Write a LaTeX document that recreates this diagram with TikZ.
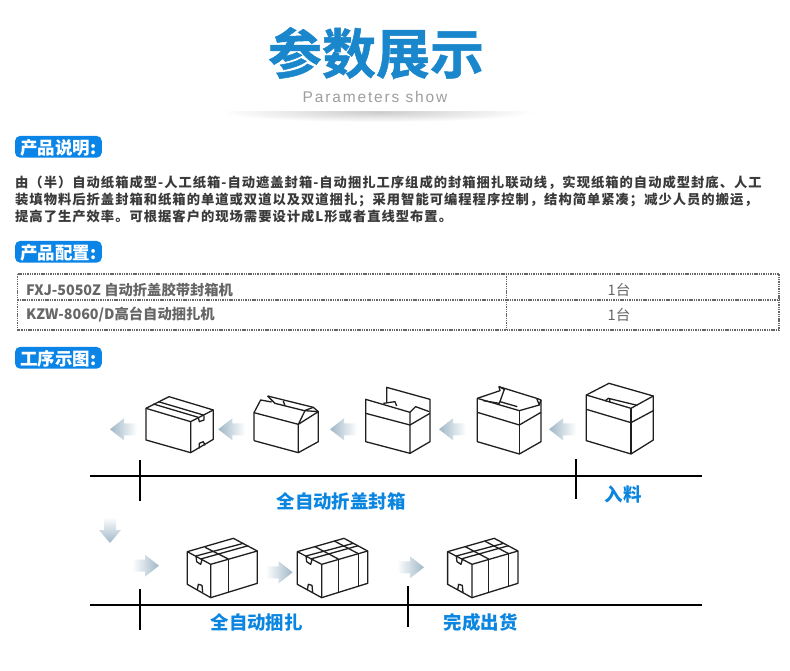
\documentclass[tikz,border=0pt]{standalone}
\usepackage{fontspec}
\newfontfamily\cjk{Noto Sans CJK SC}
\newfontfamily\cjkheavy[FakeBold=0.9]{Noto Sans CJK SC Bold}
\newfontfamily\lat[LetterSpace=12]{Liberation Sans}
\definecolor{pillblue}{HTML}{0A84E6}
\definecolor{titleblue}{HTML}{1A86CC}
\definecolor{labelblue}{HTML}{0A85E0}
\definecolor{bodytext}{HTML}{3A3A3A}
\definecolor{cfgtext}{HTML}{666666}
\definecolor{arrowdark}{HTML}{9FB7C6}
\tikzset{
  pill/.style={fill=pillblue,rounded corners=5pt,minimum width=86.7pt,minimum height=21.7pt,inner sep=0pt,
    text=white,font=\cjk\bfseries\fontsize{17.5}{18}\selectfont,text depth=0pt},
  bodyline/.style={anchor=west,inner sep=0pt,text=bodytext,font=\cjk\bfseries\fontsize{13.3}{14}\selectfont\addfontfeature{LetterSpace=7.5}},
  cfgline/.style={anchor=west,inner sep=0pt,text=cfgtext,font=\cjk\bfseries\fontsize{14.3}{15}\selectfont},
  cfgqty/.style={inner sep=0pt,text=cfgtext,font=\cjk\fontsize{14.5}{15}\selectfont},
  steplabel/.style={inner sep=0pt,text=labelblue,font=\cjk\bfseries\fontsize{18.4}{19}\selectfont},
  cfgrule/.style={draw=cfgtext,line width=1.4pt,dash pattern=on 1.4pt off 0.9pt},
  boxline/.style={draw=black!88,line width=1.3pt,line join=round,fill=none},
  flowrule/.style={draw=black,line width=1.9pt},
}
\newcommand{\larrow}[2]{\shade[left color=arrowdark,right color=white] (#1,#2) -- ++(14,-11) -- ++(0,5) -- ++(13,0) -- ++(0,12) -- ++(-13,0) -- ++(0,5) -- cycle;}
\newcommand{\rarrow}[2]{\shade[right color=arrowdark,left color=white] (#1,#2) -- ++(-14,-11) -- ++(0,5) -- ++(-13,0) -- ++(0,12) -- ++(13,0) -- ++(0,5) -- cycle;}
\newcommand{\strapbox}{%
\draw[boxline] (22,50) -- (162,10) -- (233,48) -- (233,145) -- (95,188) -- (22,148) -- cycle;
\draw[boxline] (22,50) -- (95,88) -- (233,48) (95,88) -- (95,188);
\draw[boxline] (145,72) -- (145,170) (205,56) -- (205,155);
\draw[boxline] (75,35) -- (145,72) (133,18) -- (205,56);
\draw[boxline] (48,63) -- (190,25) (62,72) -- (205,32);
\draw[boxline] (48,63) -- (50,80) -- (62,88) -- (66,74);
\draw[boxline] (52,165) -- (55,148) -- (66,151) -- (68,172);
}
\begin{document}
\begin{tikzpicture}[x=1pt,y=-1pt]
\useasboundingbox (0,0) rectangle (790,671);
\fill[white] (0,0) rectangle (790,671);
% header
\begin{scope}
\clip (200,112) rectangle (560,125);
\shade[inner color=black!20,outer color=white,draw=none] (378,112) ellipse (157 and 10);
\end{scope}
\node[inner sep=0pt,text=titleblue,font=\cjkheavy\fontsize{54}{56}\selectfont] (title) at (376,53) {参数展示};
\node[inner sep=0pt,text=black!38,font=\lat\fontsize{15.5}{16}\selectfont] (subtitle) at (375,97) {Parameters show};
% section pills
\node[pill] (p1) at (58.4,146.8) {产品说明:};
\node[pill] (p2) at (58.4,251.8) {产品配置:};
\node[pill] (p3) at (58.4,357.8) {工序示图:};
% body
\node[bodyline] (l1) at (15,183) {由（半）自动纸箱成型-人工纸箱-自动遮盖封箱-自动捆扎工序组成的封箱捆扎联动线，实现纸箱的自动成型封底、人工};
\node[bodyline] (l2) at (15,200) {装填物料后折盖封箱和纸箱的单道或双道以及双道捆扎；采用智能可编程程序控制，结构简单紧凑；减少人员的搬运，};
\node[bodyline] (l3) at (15,216.5) {提高了生产效率。可根据客户的现场需要设计成L形或者直线型布置。};
% table
\draw[cfgrule] (17.5,274) rectangle (779,330);
\draw[cfgrule] (17.5,300) -- (779,300);
\draw[cfgrule] (506.7,274) -- (506.7,330);
\node[cfgline] (c1) at (26,290) {FXJ-5050Z 自动折盖胶带封箱机};
\node[cfgline] (c2) at (26,315) {KZW-8060/D高台自动捆扎机};
\node[cfgqty] (q1) at (619,290) {1台};
\node[cfgqty] (q2) at (619,315) {1台};
% arrows
\larrow{110}{429.3}
\larrow{218.3}{429.3}
\larrow{330}{429.3}
\larrow{439}{429.3}
\larrow{549}{429.3}
\shade[bottom color=arrowdark,top color=white] (110,543) -- ++(-11,-13) -- ++(5,0) -- ++(0,-13) -- ++(12,0) -- ++(0,13) -- ++(5,0) -- cycle;
\rarrow{159}{565.7}
\rarrow{292.7}{572.3}
\rarrow{424}{567.3}
% box 1
\begin{scope}[shift={(140,390)},x=0.3333pt,y=-0.3333pt]
\draw[boxline] (18,55) -- (87,20) -- (220,60) -- (220,148) -- (152,188) -- (18,150) -- cycle;
\draw[boxline] (18,55) -- (152,95) -- (220,60) (152,95) -- (152,188);
\draw[boxline] (40,42) -- (175,82) (55,35) -- (190,75);
\draw[boxline] (175,82) -- (178,95) -- (192,90) -- (192,76);
\draw[boxline] (178,175) -- (178,160) -- (190,155) -- (195,166);
\end{scope}
% box 2 and box 3
\begin{scope}[shift={(245,390)},x=0.3333pt,y=-0.3333pt]
\draw[boxline] (27,152) -- (27,68) -- (47,30) -- (80,36);
\draw[boxline] (68,18) -- (205,52) -- (220,65) -- (220,155) -- (160,188) -- (27,152);
\draw[boxline] (27,68) -- (160,103) -- (220,65) (160,103) -- (160,188);
\draw[boxline] (160,103) -- (180,62) -- (220,65);
\draw[boxline] (68,18) -- (90,40) -- (178,62) -- (205,52);
\draw[boxline] (115,33) -- (120,48);
\draw[boxline] (362,28) -- (495,67) -- (495,190) -- (362,155) -- cycle;
\draw[boxline] (362,70) -- (495,105) -- (555,70);
\draw[boxline] (425,38) -- (425,-8) -- (555,28) -- (555,155) -- (495,190);
\draw[boxline] (415,40) -- (450,35) -- (455,48) (495,67) -- (512,50) -- (553,65);
\end{scope}
% box 4
\begin{scope}[shift={(470,380)},x=0.3333pt,y=-0.3333pt]
\draw[boxline] (22,55) -- (22,185) -- (148,222) -- (213,185) -- (213,60) -- (200,55) -- (87,20) -- (90,32) -- (22,55);
\draw[boxline] (22,55) -- (148,92) -- (208,75);
\draw[boxline] (22,97) -- (148,135) -- (213,97);
\draw[boxline] (148,92) -- (148,222);
\draw[boxline] (87,20) -- (103,28) -- (88,70) -- (40,62);
\draw[boxline] (90,65) -- (142,80);
\draw[boxline] (200,55) -- (208,75) -- (213,60);
\end{scope}
% box 5
\begin{scope}[shift={(400,370)},x=0.3333pt,y=-0.3333pt]
\draw[boxline] (559,75) -- (627,40) -- (760,78) -- (760,210) -- (693,252) -- (559,212) -- cycle;
\draw[boxline] (559,75) -- (693,115) -- (760,78);
\draw[boxline] (559,118) -- (693,158) -- (760,122);
\draw[boxline] (693,115) -- (693,252);
\draw[boxline] (615,93) -- (625,85) -- (712,106) (628,85) -- (630,97);
\end{scope}
% box 6
\begin{scope}[shift={(180,535)},x=0.3333pt,y=-0.3333pt]
\draw[boxline] (22,50) -- (160,10) -- (232,48) -- (232,145) -- (92,188) -- (22,148) -- cycle;
\draw[boxline] (22,50) -- (92,88) -- (232,48) (92,88) -- (92,188);
\draw[boxline] (145,72) -- (145,172);
\draw[boxline] (75,37) -- (145,72);
\draw[boxline] (48,63) -- (190,25) (62,72) -- (205,32);
\draw[boxline] (48,63) -- (50,80) -- (62,88) -- (66,74);
\draw[boxline] (52,165) -- (55,148) -- (66,151) -- (68,172);
\end{scope}
% box 7
\begin{scope}[shift={(290,535)},x=0.3333pt,y=-0.3333pt]
\strapbox
\end{scope}
% box 8
\begin{scope}[shift={(440.3,535)},x=0.3333pt,y=-0.3333pt]
\strapbox
\end{scope}
% flow rules
\coordinate (r1a) at (90,476); \coordinate (r1b) at (702,476);
\coordinate (v1a) at (140,460); \coordinate (v1b) at (140,500.5);
\coordinate (v2a) at (575.7,459); \coordinate (v2b) at (575.7,498.5);
\coordinate (r2a) at (90,605); \coordinate (r2b) at (702,605);
\coordinate (v3a) at (140,589); \coordinate (v3b) at (140,630);
\coordinate (v4a) at (408,586); \coordinate (v4b) at (408,626.5);
\draw[flowrule] (r1a) -- (r1b);
\draw[flowrule] (v1a) -- (v1b);
\draw[flowrule] (v2a) -- (v2b);
\draw[flowrule] (r2a) -- (r2b);
\draw[flowrule] (v3a) -- (v3b);
\draw[flowrule] (v4a) -- (v4b);
% labels
\node[steplabel] (s1) at (341,501.7) {全自动折盖封箱};
\node[steplabel] (s2) at (623,494.5) {入料};
\node[steplabel] (s3) at (256.7,622.8) {全自动捆扎};
\node[steplabel] (s4) at (480.7,622.5) {完成出货};
\end{tikzpicture}
\end{document}
